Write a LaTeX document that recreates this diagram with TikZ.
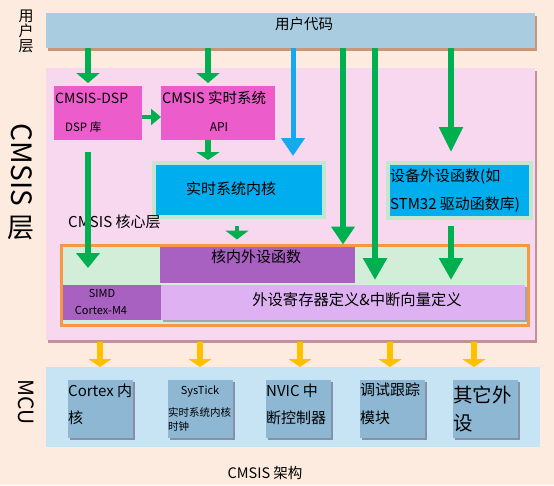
\documentclass[tikz,border=0pt]{standalone}
\usepackage{fontspec}
\setmainfont{Noto Sans CJK SC}
\usetikzlibrary{arrows.meta, positioning, shadows}

\definecolor{bgpeach}{HTML}{FDEBDF}
\definecolor{barblue}{HTML}{A9CCE0}
\definecolor{barshadow}{HTML}{C8977A}
\definecolor{layerpink}{HTML}{F8D8EE}
\definecolor{layershadow}{HTML}{C4909E}
\definecolor{dspmagenta}{HTML}{EC5CCB}
\definecolor{kernelblue}{HTML}{00AEEF}
\definecolor{kernelrim}{HTML}{C3E6CF}
\definecolor{arrowgreen}{HTML}{00B050}
\definecolor{arrowblue}{HTML}{16A9F0}
\definecolor{frameorange}{HTML}{F79646}
\definecolor{framegreen}{HTML}{D2EDD8}
\definecolor{corepurple}{HTML}{A861C0}
\definecolor{reglilac}{HTML}{DEB2F2}
\definecolor{arrowyellow}{HTML}{FFC000}
\definecolor{mcuband}{HTML}{C6E4F4}
\definecolor{mcubox}{HTML}{8DB7D3}
\definecolor{mcushadow}{HTML}{8A8FA8}

\newcommand{\fsz}[1]{\fontsize{#1}{#1}\selectfont}

\tikzstyle{area} = [rectangle, anchor=north west, inner sep=0pt, outer sep=0pt]
\tikzstyle{barrow} = [line width=5pt, arrowblue, -{Triangle[width=23pt,length=18pt]}]
\tikzstyle{yarrow} = [line width=6pt, arrowyellow, -{Triangle[width=23pt,length=8pt]}]

\begin{document}
\begin{tikzpicture}[x=1pt, y=-1pt,
    garrow/.style={line width=5.5pt, arrowgreen, -{Triangle[width=23pt,length=#1]}},
    garrow/.default=22pt,
    userbar/.style={area, fill=barblue, drop shadow={shadow xshift=2pt, shadow yshift=-2.5pt, fill=barshadow, opacity=1}},
    layer/.style={area, fill=layerpink, drop shadow={shadow xshift=2pt, shadow yshift=-2.5pt, fill=layershadow, opacity=1}},
    dspbox/.style={area, fill=dspmagenta},
    kernelbox/.style={area, fill=kernelblue, draw=kernelrim, line width=3.5pt, drop shadow={shadow xshift=2pt, shadow yshift=-2pt, fill=gray!60, opacity=1}},
    corebar/.style={area, fill=corepurple},
    regbar/.style={area, fill=reglilac, drop shadow={shadow xshift=1.5pt, shadow yshift=-1.5pt, fill=gray!70, opacity=1}},
    mcuitem/.style={area, fill=mcubox, minimum width=65pt, minimum height=58pt, drop shadow={shadow xshift=2pt, shadow yshift=-2pt, fill=mcushadow, opacity=1}},
    label/.style={inner sep=0pt, anchor=west}]

\useasboundingbox[fill=bgpeach] (0,0) rectangle (554,485);

% User layer
\node[userbar, minimum width=489pt, minimum height=35pt] (usercode) at (46,13) {};
\node[inner sep=0pt, font=\fsz{14.5}] (usercodetxt) at (304,24) {用户代码};
\node[inner sep=0pt, align=center, font=\fontsize{15}{15}\selectfont] (userlayer) at (26,31) {用\\户\\层};

% CMSIS layer
\node[layer, minimum width=489pt, minimum height=272pt] (cmsis) at (46,68) {};
\node[inner sep=0pt, rotate=-90, font=\fsz{28}] (cmsislabel) at (22,165) {CMSIS};
\node[inner sep=0pt, font=\fsz{27}] (cmsislayer) at (21,228) {层};

\node[dspbox, minimum width=88pt, minimum height=54pt] (dsp) at (54,86) {};
\node[label, font=\fsz{14}] (dsptitle) at (55,98) {CMSIS-DSP};
\node[label, font=\fsz{11.5}] (dsplib) at (65,127) {DSP 库};

\node[dspbox, minimum width=114pt, minimum height=54pt] (rtapi) at (161,86) {};
\node[label, font=\fsz{14.5}] (rttitle) at (162,98) {CMSIS 实时系统};
\node[inner sep=0pt, font=\fsz{12}] (apitxt) at (219,127) {API};

\node[kernelbox, minimum width=170pt, minimum height=54pt] (rtkernel) at (154,163) {};
\node[inner sep=0pt, font=\fsz{15}] (rtkerneltxt) at (231,189) {实时系统内核};

\node[label, font=\fsz{15}] (corelayer) at (68,222) {CMSIS 核心层};

\node[kernelbox, minimum width=143pt, minimum height=55pt] (devperiph) at (388,163) {};
\node[label, font=\fsz{15}] (devline1) at (390,177) {设备外设函数(如};
\node[label, font=\fsz{15}] (devline2) at (390,205) {STM32 驱动函数库)};

% Core peripheral frame
\node[area, fill=framegreen, draw=frameorange, line width=3pt, minimum width=467pt, minimum height=80pt] (coreframe) at (61,245) {};
\node[corebar, minimum width=195pt, minimum height=36pt] (corefunc) at (160,246.5) {};
\node[inner sep=0pt, font=\fsz{15}] (corefunctxt) at (256,257) {核内外设函数};
\node[corebar, minimum width=98pt, minimum height=35pt] (simd) at (62.5,285) {};
\node[inner sep=0pt, font=\fsz{11}] (simdtxt) at (102,293) {SIMD};
\node[inner sep=0pt, font=\fsz{11}] (m4txt) at (101,310) {Cortex-M4};
\node[regbar, minimum width=364pt, minimum height=35pt] (regdef) at (161,285) {};
\node[inner sep=0pt, font=\fsz{15.3}] (regdeftxt) at (357,300) {外设寄存器定义\&中断向量定义};

% MCU
\node[area, fill=mcuband, minimum width=494pt, minimum height=80pt] (mcu) at (46,367) {};
\node[inner sep=0pt, rotate=-90, font=\fsz{21}] (mculabel) at (26,402) {MCU};

\node[mcuitem] (cortex) at (68,380) {};
\node[label, font=\fsz{15}] at (68,391) {Cortex 内};
\node[label, font=\fsz{15}] at (68,418) {核};

\node[mcuitem] (systick) at (168,380) {};
\node[inner sep=0pt, font=\fsz{11}] at (200,391) {SysTick};
\node[label, font=\fsz{10.5}] at (168,412) {实时系统内核};
\node[label, font=\fsz{10.5}] at (168,427) {时钟};

\node[mcuitem] (nvic) at (266,380) {};
\node[label, font=\fsz{15}] at (266,391) {NVIC 中};
\node[label, font=\fsz{15}] at (266,418) {断控制器};

\node[mcuitem] (debug) at (360,380) {};
\node[label, font=\fsz{15}] at (360,390) {调试跟踪};
\node[label, font=\fsz{15}] at (360,418) {模块};

\node[mcuitem] (other) at (453,380) {};
\node[label, font=\fsz{19.5}] at (453,395) {其它外};
\node[label, font=\fsz{19.5}] at (453,423) {设};

\node[inner sep=0pt, font=\fsz{14.5}] (caption) at (265,473) {CMSIS 架构};

% Arrows
\draw[garrow=10pt, shorten >=3pt] (88,0 |- usercode.south) -- (88,0 |- dsp.north);
\draw[garrow=10pt, shorten >=3pt] (208,0 |- usercode.south) -- (208,0 |- rtapi.north);
\draw[garrow=10pt, line width=4.5pt, -{Triangle[width=16pt,length=10pt]}] (dsp.east |- 0,117) -- (rtapi.west |- 0,117);
\draw[barrow, shorten >=7pt] (293,0 |- usercode.south) -- (293,0 |- rtkernel.north);
\draw[garrow=18pt, shorten >=2pt] (343,0 |- usercode.south) -- (343,0 |- corefunc.north);
\draw[garrow, shorten >=5pt] (375,0 |- usercode.south) -- (375,0 |- regdef.north);
\draw[garrow=25pt, shorten >=11pt] (451,0 |- usercode.south) -- (451,0 |- devperiph.north);
\draw[garrow=15pt, shorten <=12pt, shorten >=17pt] (88,0 |- dsp.south) -- (88,0 |- simd.north);
\draw[garrow=8pt, shorten >=3pt] (208,0 |- rtapi.south) -- (208,0 |- rtkernel.north);
\draw[garrow=9pt, line width=4.5pt, shorten <=9pt, shorten >=7pt] (237,0 |- rtkernel.south) -- (237,0 |- corefunc.north);
\draw[garrow, shorten <=8pt, shorten >=5pt] (451,0 |- devperiph.south) -- (451,0 |- regdef.north);
\foreach \x in {100,200,300,390,474}
  \draw[yarrow, shorten <=2pt] (\x,0 |- cmsis.south) -- (\x,0 |- mcu.north);

\end{tikzpicture}
\end{document}
